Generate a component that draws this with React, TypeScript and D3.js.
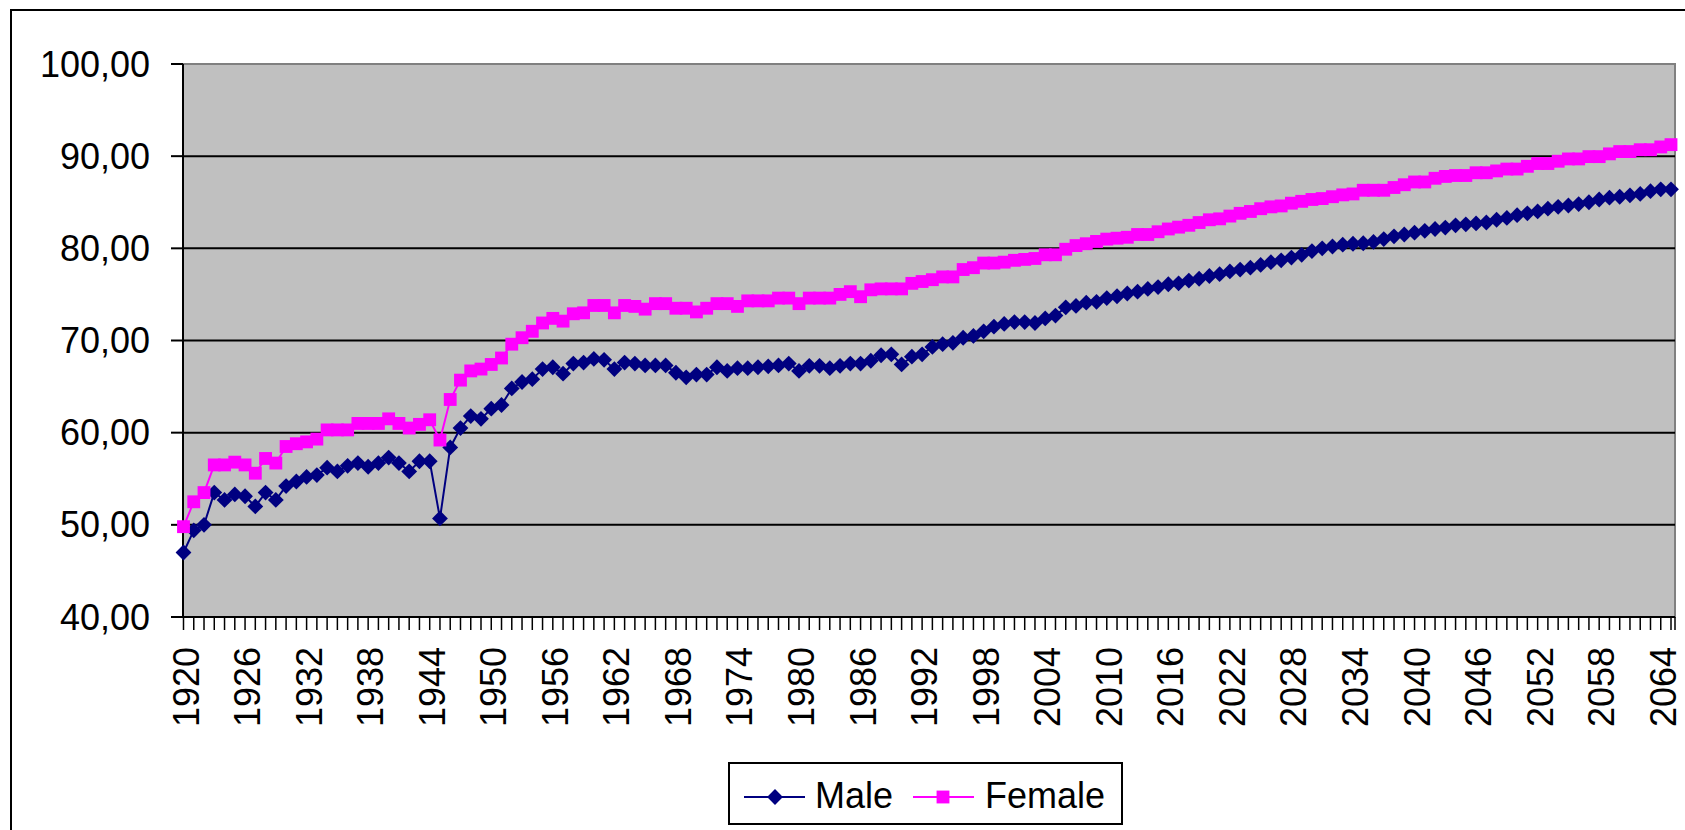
import React from "react";
import * as d3 from "d3";

const years: number[] = d3.range(1920, 2066);

const male: number[] = [
  47.0, 49.4, 50.0, 53.5, 52.7, 53.3, 53.1, 52.0, 53.5, 52.7,
  54.2, 54.7, 55.2, 55.4, 56.2, 55.8, 56.4, 56.7, 56.3, 56.7,
  57.3, 56.7, 55.8, 56.9, 56.9, 50.7, 58.4, 60.5, 61.8, 61.5,
  62.6, 63.0, 64.8, 65.5, 65.8, 66.9, 67.1, 66.4, 67.5, 67.6,
  68.0, 67.9, 66.9, 67.6, 67.5, 67.3, 67.3, 67.3, 66.5, 66.0,
  66.3, 66.3, 67.1, 66.7, 67.0, 67.0, 67.1, 67.2, 67.3, 67.5,
  66.7, 67.25, 67.25, 67.0, 67.25, 67.5, 67.5, 67.8, 68.4, 68.5,
  67.4, 68.25, 68.5, 69.3, 69.6, 69.75, 70.3, 70.5, 71.0, 71.5,
  71.8, 72.0, 72.0, 71.9, 72.4, 72.7, 73.6, 73.75, 74.1, 74.2,
  74.6, 74.8, 75.1, 75.3, 75.6, 75.8, 76.1, 76.2, 76.5, 76.7,
  77.0, 77.2, 77.5, 77.7, 77.9, 78.2, 78.5, 78.7, 79.0, 79.3,
  79.7, 80.0, 80.2, 80.4, 80.5, 80.55, 80.7, 81.0, 81.3, 81.5,
  81.7, 81.9, 82.1, 82.25, 82.5, 82.6, 82.7, 82.8, 83.1, 83.3,
  83.6, 83.8, 84.0, 84.3, 84.5, 84.65, 84.8, 85.0, 85.3, 85.5,
  85.6, 85.75, 85.9, 86.2, 86.4, 86.4,
];

const female: number[] = [
  49.8, 52.5, 53.5, 56.5, 56.5, 56.8, 56.5, 55.6, 57.2, 56.7,
  58.5, 58.8, 59.0, 59.3, 60.3, 60.3, 60.3, 61.0, 61.0, 61.0,
  61.5, 61.0, 60.5, 60.9, 61.4, 59.2, 63.6, 65.7, 66.7, 66.9,
  67.4, 68.1, 69.6, 70.3, 71.0, 71.9, 72.4, 72.1, 72.9, 73.0,
  73.8, 73.8, 73.0, 73.8, 73.7, 73.4, 74.0, 74.0, 73.5, 73.5,
  73.1, 73.5, 74.0, 74.0, 73.7, 74.3, 74.3, 74.3, 74.6, 74.6,
  74.0, 74.6, 74.6, 74.6, 75.0, 75.3, 74.75, 75.5, 75.6, 75.6,
  75.6, 76.2, 76.4, 76.6, 76.9, 76.9, 77.7, 77.9, 78.4, 78.4,
  78.5, 78.7, 78.8, 78.9, 79.3, 79.3, 79.9, 80.3, 80.5, 80.75,
  81.0, 81.1, 81.2, 81.5, 81.5, 81.8, 82.1, 82.3, 82.5, 82.8,
  83.1, 83.2, 83.5, 83.8, 84.0, 84.3, 84.5, 84.6, 84.9, 85.1,
  85.3, 85.4, 85.6, 85.8, 85.9, 86.3, 86.3, 86.3, 86.6, 86.9,
  87.2, 87.2, 87.6, 87.8, 87.9, 87.9, 88.2, 88.2, 88.4, 88.6,
  88.6, 88.9, 89.2, 89.2, 89.45, 89.7, 89.7, 89.95, 89.95, 90.25,
  90.5, 90.5, 90.7, 90.7, 91.0, 91.25,
];

const yTicks: number[] = [40, 50, 60, 70, 80, 90, 100];
const xLabelYears: number[] = d3.range(1920, 2066, 6);
const seriesNames: string[] = ["Male", "Female"];

const W = 1685;
const H = 830;
const plot = { left: 183, right: 1675, top: 64, bottom: 617 };
const FONT = "'Liberation Sans', Arial, sans-serif";
const FS = 36;
const MALE_COLOR = "#000080";
const FEMALE_COLOR = "#FF00FF";

export default function App() {
  const x = d3.scaleLinear().domain([1920, 2065]).range([183.5, 1671]);
  const y = d3.scaleLinear().domain([40, 100]).range([plot.bottom, plot.top]);

  const line = d3
    .line<number>()
    .x((_, i) => x(years[i]))
    .y((d) => y(d));

  const diamond = d3.symbol().type(d3.symbolSquare).size(125)() as string;
  const square = d3.symbol().type(d3.symbolSquare).size(165)() as string;

  const fmt = (v: number) => v.toFixed(2).replace(".", ",");

  return (
    <svg
      width={W}
      height={H}
      style={{ position: "fixed", left: 0, top: 0, background: "#fff" }}
    >
      {/* outer chart border */}
      <rect x={11} y={10} width={W + 20} height={H + 20} fill="#fff" stroke="#000" strokeWidth={2} />

      {/* plot area */}
      <rect
        x={plot.left}
        y={plot.top}
        width={plot.right - plot.left}
        height={plot.bottom - plot.top}
        fill="#C0C0C0"
        stroke="#808080"
        strokeWidth={2}
      />

      {/* gridlines */}
      {yTicks
        .filter((t) => t > 40 && t < 100)
        .map((t) => (
          <line key={t} x1={plot.left} x2={plot.right} y1={y(t)} y2={y(t)} stroke="#000" strokeWidth={2} />
        ))}

      {/* axes */}
      <line x1={plot.left} x2={plot.left} y1={plot.top} y2={plot.bottom + 1} stroke="#000" strokeWidth={2} />
      <line x1={plot.left - 1} x2={plot.right} y1={plot.bottom} y2={plot.bottom} stroke="#000" strokeWidth={2} />

      {/* y ticks & labels */}
      {yTicks.map((t) => (
        <g key={t}>
          <line x1={plot.left - 12} x2={plot.left} y1={y(t)} y2={y(t)} stroke="#000" strokeWidth={2} />
          <text
            x={150}
            y={y(t)}
            dy="0.35em"
            textAnchor="end"
            fontFamily={FONT}
            fontSize={FS}
            fill="#000"
          >
            {fmt(t)}
          </text>
        </g>
      ))}

      {/* x ticks */}
      {years.map((yr) => (
        <line key={yr} x1={x(yr)} x2={x(yr)} y1={plot.bottom} y2={plot.bottom + 13} stroke="#000" strokeWidth={1.5} />
      ))}
      <line x1={plot.right} x2={plot.right} y1={plot.bottom} y2={plot.bottom + 13} stroke="#000" strokeWidth={1.5} />

      {/* x labels */}
      {xLabelYears.map((yr) => (
        <text
          key={yr}
          transform={`translate(${x(yr)},647) rotate(-90)`}
          dy={15}
          textAnchor="end"
          fontFamily={FONT}
          fontSize={FS}
          fill="#000"
        >
          {yr}
        </text>
      ))}

      {/* Male series */}
      <path d={line(male) || ""} fill="none" stroke={MALE_COLOR} strokeWidth={2} />
      {male.map((v, i) => (
        <path
          key={"m" + i}
          d={diamond}
          transform={`translate(${x(years[i])},${y(v)}) rotate(45)`}
          fill={MALE_COLOR}
        />
      ))}

      {/* Female series */}
      <path d={line(female) || ""} fill="none" stroke={FEMALE_COLOR} strokeWidth={2} />
      {female.map((v, i) => (
        <path key={"f" + i} d={square} transform={`translate(${x(years[i])},${y(v)})`} fill={FEMALE_COLOR} />
      ))}

      {/* legend */}
      <g>
        <rect x={729} y={763} width={393} height={61} fill="#fff" stroke="#000" strokeWidth={2} />
        <line x1={744} x2={805} y1={797} y2={797} stroke={MALE_COLOR} strokeWidth={2} />
        <path d={diamond} transform="translate(775,797) rotate(45)" fill={MALE_COLOR} />
        <text x={815} y={808} fontFamily={FONT} fontSize={FS} fill="#000">
          {seriesNames[0]}
        </text>
        <line x1={913} x2={974} y1={797} y2={797} stroke={FEMALE_COLOR} strokeWidth={2} />
        <path d={square} transform="translate(943,797)" fill={FEMALE_COLOR} />
        <text x={985} y={808} fontFamily={FONT} fontSize={FS} fill="#000">
          {seriesNames[1]}
        </text>
      </g>
    </svg>
  );
}
